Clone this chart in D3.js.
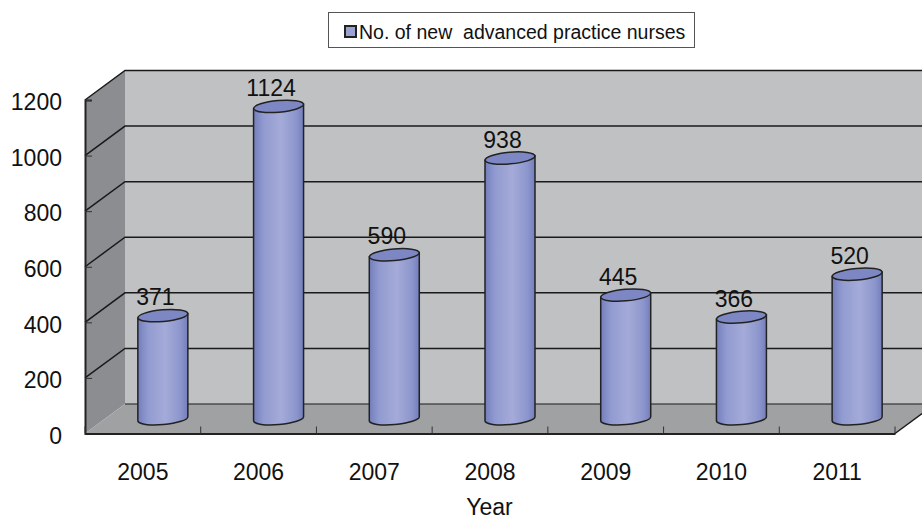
<!DOCTYPE html>
<html>
<head>
<meta charset="utf-8">
<script src="https://cdn.jsdelivr.net/npm/d3@7"></script>
<style>
  html, body { margin: 0; padding: 0; background: #fff; overflow: hidden; }
  svg { display: block; }
  text { font-family: "Liberation Sans", Arial, sans-serif; fill: #111; }
</style>
</head>
<body>
<svg width="922" height="519"></svg>
<script>
  // DATA

  var years = ["2005", "2006", "2007", "2008", "2009", "2010", "2011"],
    nurses = [371, 1124, 590, 938, 445, 366, 520],
    yTicks = [0, 200, 400, 600, 800, 1000, 1200],
    legendLabel = "No. of new  advanced practice nurses",
    xTitle = "Year";

  // SETUP

  var svg = d3.select("svg"),
    depthX = 40,
    depthY = -29.5,
    fontSize = 23,
    x = d3.scaleBand().domain(years).range([85, 895]),
    y = d3.scaleLinear().domain([0, 1200]).range([433.5, 100]);

  var grad = svg.append("defs").append("linearGradient")
    .attr("id", "cyl");
  grad.append("stop").attr("offset", "0%").attr("stop-color", "#737ebc");
  grad.append("stop").attr("offset", "20%").attr("stop-color", "#929bd0");
  grad.append("stop").attr("offset", "55%").attr("stop-color", "#a4abd9");
  grad.append("stop").attr("offset", "85%").attr("stop-color", "#8d96cc");
  grad.append("stop").attr("offset", "100%").attr("stop-color", "#737ebc");

  var x0 = x.range()[0], x1 = x.range()[1],
    y0 = y(0), yTop = y(1200);

  function pts(a) {
    return a.map(function (p) { return p.join(","); }).join(" ");
  }

  // WALLS AND FLOOR

  svg.append("polygon")
    .attr("points", pts([[x0 + depthX, yTop + depthY], [x1 + depthX, yTop + depthY], [x1 + depthX, y0 + depthY], [x0 + depthX, y0 + depthY]]))
    .attr("fill", "#c0c1c3");

  svg.append("polygon")
    .attr("points", pts([[x0, yTop], [x0 + depthX, yTop + depthY], [x0 + depthX, y0 + depthY], [x0, y0]]))
    .attr("fill", "#8c8d90");

  svg.append("polygon")
    .attr("points", pts([[x0, y0], [x0 + depthX, y0 + depthY], [x1 + depthX, y0 + depthY], [x1, y0]]))
    .attr("fill", "#a0a1a3");

  // GRID

  svg.selectAll(".grid")
    .data(yTicks)
    .enter().append("polyline")
    .attr("class", "grid")
    .attr("fill", "none")
    .attr("stroke", "#1a1a1a")
    .attr("stroke-width", function (d) { return d === 0 ? 1.2 : 1.5; })
    .attr("points", function (d) {
      // the floor's left edge is not drawn in the reference
      return d === 0
        ? pts([[x0 + depthX, y(d) + depthY], [x1 + depthX, y(d) + depthY]])
        : pts([[x0, y(d)], [x0 + depthX, y(d) + depthY], [x1 + depthX, y(d) + depthY]]);
    });

  svg.append("line")
    .attr("x1", x1).attr("y1", y0)
    .attr("x2", x1 + depthX).attr("y2", y0 + depthY)
    .attr("stroke", "#1a1a1a")
    .attr("stroke-width", 1.5);

  // AXES

  var gy = svg.append("g")
    .attr("transform", "translate(" + x0 + ",0)")
    .call(d3.axisLeft(y).tickValues(yTicks).tickFormat(d3.format("d")).tickSize(-7).tickPadding(23));

  var gx = svg.append("g")
    .attr("transform", "translate(0," + y0 + ")")
    .call(d3.axisBottom(x).tickSize(0).tickPadding(30));

  gx.selectAll(".boundary")
    .data(years.map(function (d) { return x(d); }).concat([x1]))
    .enter().append("line")
    .attr("class", "boundary")
    .attr("x1", function (d) { return d; })
    .attr("x2", function (d) { return d; })
    .attr("y1", 0)
    .attr("y2", -7)
    .attr("stroke", "#333");

  svg.selectAll(".domain").attr("stroke", "#222").attr("stroke-width", 2);
  svg.selectAll(".tick line").attr("stroke", "#333");
  svg.selectAll(".tick text")
    .attr("font-size", fontSize)
    .attr("font-family", "Liberation Sans")
    .attr("fill", "#111");
  gy.selectAll(".tick text").attr("dy", "0.42em");

  // BARS

  var rx = 25, ry = 5.8, tilt = -5,
    slope = Math.sin(tilt * Math.PI / 180) * rx;

  function barX(d) { return x(d) + x.bandwidth() / 2 + depthX / 2; }
  function barY(v) { return y(v) + depthY / 2; }

  var bars = svg.selectAll(".bar")
    .data(years.map(function (d, i) { return { year: d, value: nurses[i] }; }))
    .enter().append("g")
    .attr("class", "bar");

  bars.append("path")
    .attr("fill", "url(#cyl)")
    .attr("stroke", "#222")
    .attr("stroke-width", 1.5)
    .attr("d", function (d) {
      var cx = barX(d.year), t = barY(d.value), b = barY(0);
      return "M" + (cx - rx) + "," + (t - slope)
        + "L" + (cx - rx) + "," + (b - slope)
        + "A" + rx + "," + ry + " " + tilt + " 0 0 " + (cx + rx) + "," + (b + slope)
        + "L" + (cx + rx) + "," + (t + slope)
        + "Z";
    });

  bars.append("ellipse")
    .attr("cx", function (d) { return barX(d.year); })
    .attr("cy", function (d) { return barY(d.value); })
    .attr("rx", rx)
    .attr("ry", ry)
    .attr("transform", function (d) {
      return "rotate(" + tilt + " " + barX(d.year) + " " + barY(d.value) + ")";
    })
    .attr("fill", "#7d87c4")
    .attr("stroke", "#222")
    .attr("stroke-width", 1.5);

  bars.append("text")
    .attr("x", function (d) { return barX(d.year) - 7.5; })
    .attr("y", function (d) { return barY(d.value) - 10.5; })
    .attr("text-anchor", "middle")
    .attr("font-size", fontSize)
    .text(function (d) { return d.value; });

  // TITLE AND LEGEND

  svg.append("text")
    .attr("x", 489.5)
    .attr("y", 515)
    .attr("text-anchor", "middle")
    .attr("font-size", fontSize)
    .text(xTitle);

  svg.append("rect")
    .attr("x", 328.5).attr("y", 12.5)
    .attr("width", 366).attr("height", 35)
    .attr("fill", "#fff")
    .attr("stroke", "#555");

  svg.append("rect")
    .attr("x", 345).attr("y", 26)
    .attr("width", 11).attr("height", 11)
    .attr("fill", "#9ba3d3")
    .attr("stroke", "#222")
    .attr("stroke-width", 2);

  svg.append("text")
    .attr("x", 359)
    .attr("y", 38.5)
    .attr("font-size", 19.5)
    .attr("xml:space", "preserve")
    .style("white-space", "pre")
    .text(legendLabel);
</script>
</body>
</html>
